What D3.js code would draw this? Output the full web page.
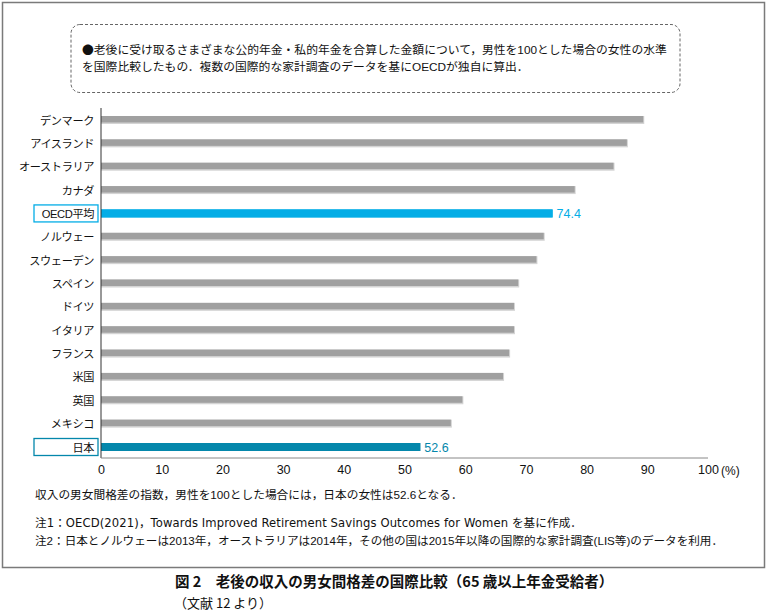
<!DOCTYPE html>
<html>
<head>
<meta charset="utf-8">
<script src="https://cdn.jsdelivr.net/npm/d3@7"></script>
<style>
  body { margin: 0; background: #fff; }
</style>
</head>
<body>
<svg id="chart" width="767" height="611" font-family="'Noto Sans CJK JP', 'Noto Sans', sans-serif"></svg>
<script>
// data
const countries = ["デンマーク", "アイスランド", "オーストラリア", "カナダ", "OECD平均", "ノルウェー",
  "スウェーデン", "スペイン", "ドイツ", "イタリア", "フランス", "米国", "英国", "メキシコ", "日本"];
const values = [89.5, 86.8, 84.6, 78.2, 74.4, 73.1, 71.9, 68.9, 68.2, 68.2, 67.4, 66.4, 59.7, 57.8, 52.6];
const xTicks = [0, 10, 20, 30, 40, 50, 60, 70, 80, 90, 100];
const highlight = { "OECD平均": "#04ade6", "日本": "#0487ab" };
const boxText = [
  "●老後に受け取るさまざまな公的年金・私的年金を合算した金額について，男性を100とした場合の女性の水準",
  "を国際比較したもの．複数の国際的な家計調査のデータを基にOECDが独自に算出．"
];
const footText = "収入の男女間格差の指数，男性を100とした場合には，日本の女性は52.6となる．";
const notes = [
  "注1：OECD(2021)，Towards Improved Retirement Savings Outcomes for Women を基に作成．",
  "注2：日本とノルウェーは2013年，オーストラリアは2014年，その他の国は2015年以降の国際的な家計調査(LIS等)のデータを利用．"
];
const title = "図 2　老後の収入の男女間格差の国際比較（65 歳以上年金受給者）";
const source = "（文献 12 より）";

const svg = d3.select("#chart");
const GRAY = "#a0a0a0";
const mixFont = "'Liberation Sans', 'Noto Sans CJK JP', sans-serif";
const cjkFont = "'Noto Sans CJK JP', sans-serif";

// outer frame
svg.append("rect")
  .attr("x", 2.5).attr("y", 2.5).attr("width", 762).attr("height", 565)
  .attr("fill", "none").attr("stroke", "#7a7a7a").attr("stroke-width", 1.5);

// dashed info box
svg.append("rect")
  .attr("x", 71).attr("y", 24.5).attr("width", 609).attr("height", 68)
  .attr("rx", 9).attr("fill", "none")
  .attr("stroke", "#555").attr("stroke-dasharray", "3,2").attr("stroke-width", 0.9);

const boxLines = svg.selectAll(".boxline").data(boxText).enter().append("text")
  .attr("x", 82).attr("y", (d, i) => 54 + i * 17)
  .attr("font-size", 11.8).attr("fill", "#111")
  .attr("font-family", mixFont);
boxLines.each(function (d) {
  const t = d3.select(this);
  if (d.startsWith("●")) {
    t.append("tspan").attr("font-family", cjkFont).text("●");
    t.append("tspan").text(d.slice(1));
  } else {
    t.text(d);
  }
});

const x = d3.scaleLinear().domain([0, 100]).range([101, 708]);
const y = d3.scalePoint().domain(countries).range([120, 447]);

// bars
const bars = svg.append("g");
countries.forEach((c, i) => {
  const col = highlight[c] || GRAY;
  bars.append("rect")
    .attr("x", x(0)).attr("y", y(c) - 4)
    .attr("width", x(values[i]) - x(0)).attr("height", 8)
    .attr("fill", col === GRAY ? "#d4d4d4" : col);
  bars.append("rect")
    .attr("x", x(0)).attr("y", y(c) - 4)
    .attr("width", x(values[i]) - x(0) - (col === GRAY ? 1 : 0)).attr("height", col === GRAY ? 6.5 : 8)
    .attr("fill", col);
});

// value labels for highlighted bars
countries.forEach((c, i) => {
  if (highlight[c]) {
    svg.append("text")
      .attr("x", x(values[i]) + 4).attr("y", y(c) + 4.5)
      .attr("font-size", 12.5).attr("fill", highlight[c])
      .attr("font-family", "'Liberation Sans', sans-serif")
      .text(values[i].toFixed(1));
  }
});

// category labels
svg.selectAll(".cat").data(countries).enter().append("text")
  .attr("x", 94).attr("y", d => y(d) + 4.5)
  .attr("text-anchor", "end").attr("font-size", 11.2).attr("fill", "#111")
  .attr("letter-spacing", -0.4)
  .attr("font-family", mixFont)
  .text(d => d);

// label boxes
Object.keys(highlight).forEach(c => {
  svg.append("rect")
    .attr("x", 34).attr("y", y(c) - 8.5).attr("width", 64).attr("height", 17)
    .attr("fill", "none").attr("stroke", highlight[c]).attr("stroke-width", 1.3);
});

// axes
svg.append("line")
  .attr("x1", x(0)).attr("x2", x(0)).attr("y1", 108).attr("y2", 458)
  .attr("stroke", "#333").attr("stroke-width", 1);
svg.append("line")
  .attr("x1", x(0)).attr("x2", x(100)).attr("y1", 458).attr("y2", 458)
  .attr("stroke", "#888").attr("stroke-width", 1);

const xAxis = svg.append("g").attr("transform", "translate(0,458)")
  .call(d3.axisBottom(x).tickValues(xTicks).tickSize(0).tickPadding(7).tickFormat(d3.format("d")));
xAxis.select(".domain").remove();
xAxis.attr("font-family", null).attr("font-size", null);
xAxis.selectAll("text").attr("font-size", 12.5).attr("fill", "#111")
  .attr("font-family", "'Liberation Sans', sans-serif");

svg.append("text")
  .attr("x", x(100) + 13).attr("y", 474.5)
  .attr("font-size", 12).attr("fill", "#111")
  .attr("font-family", mixFont)
  .text("(%)");

// footnotes
svg.append("text")
  .attr("x", 35).attr("y", 499).attr("font-size", 11.7).attr("fill", "#111")
  .attr("font-family", mixFont)
  .text(footText);
svg.selectAll(".note").data(notes).enter().append("text")
  .attr("x", 35).attr("y", (d, i) => 527 + i * 18)
  .attr("font-size", 11.6).attr("fill", "#111")
  .attr("font-family", (d, i) => i === 0 ? "'DejaVu Sans', 'Noto Sans CJK JP', sans-serif" : mixFont)
  .attr("letter-spacing", (d, i) => i === 0 ? 0.1 : 0)
  .text(d => d);

// caption
svg.append("text")
  .attr("x", 175).attr("y", 587).attr("font-size", 14.5).attr("font-weight", "bold").attr("fill", "#111")
  .text(title);
svg.append("text")
  .attr("x", 174).attr("y", 608).attr("font-size", 13).attr("fill", "#111")
  .text(source);
</script>
</body>
</html>
